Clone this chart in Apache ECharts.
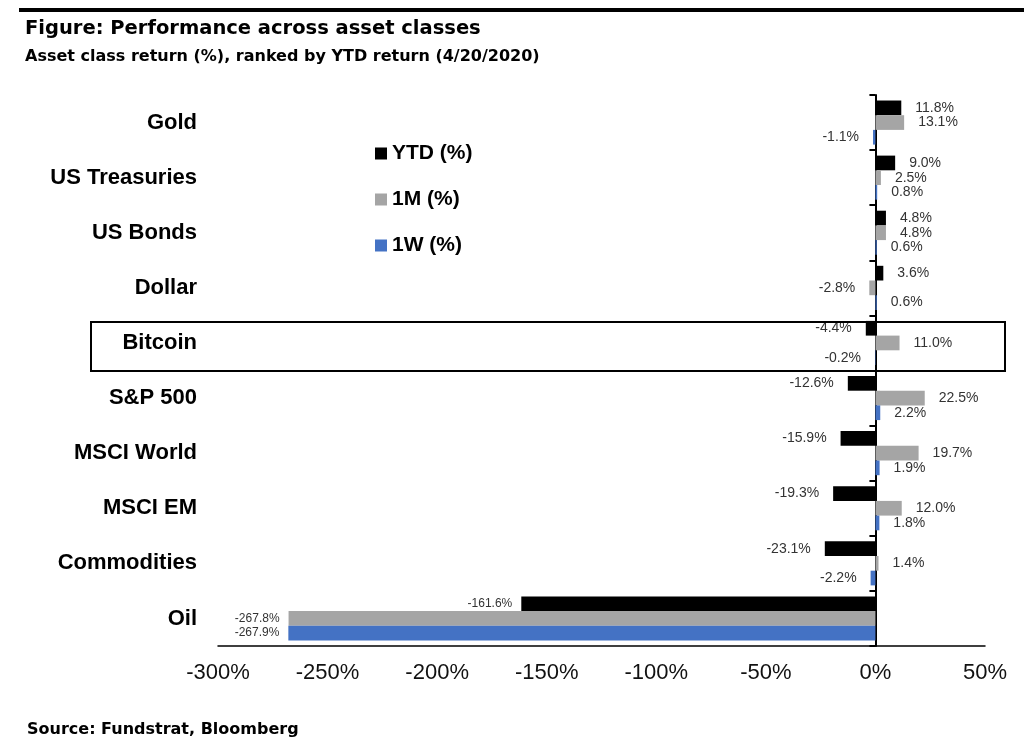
<!DOCTYPE html>
<html>
<head>
<meta charset="utf-8">
<script src="https://cdn.jsdelivr.net/npm/echarts@6/dist/echarts.min.js"></script>
<style>html,body{margin:0;padding:0;background:#fff;}#c{width:1024px;height:746px;}</style>
</head>
<body>
<div id="c"></div>
<script>
const categories = ['Gold','US Treasuries','US Bonds','Dollar','Bitcoin','S&P 500','MSCI World','MSCI EM','Commodities','Oil'];
const ytd = [11.8, 9.0, 4.8, 3.6, -4.4, -12.6, -15.9, -19.3, -23.1, -161.6];
const m1 = [13.1, 2.5, 4.8, -2.8, 11.0, 22.5, 19.7, 12.0, 1.4, -267.8];
const w1 = [-1.1, 0.8, 0.6, 0.6, -0.2, 2.2, 1.9, 1.8, -2.2, -267.9];
const seriesNames = ['YTD (%)', '1M (%)', '1W (%)'];
const xTicks = [-300, -250, -200, -150, -100, -50, 0, 50];

const colors = ['#000000', '#a5a5a5', '#4472c4'];

function toData(arr) {
  return arr.map(function (v) {
    const big = Math.abs(v) > 100;
    return {
      value: v,
      label: {
        position: v < 0 ? 'left' : 'right',
        distance: big ? 9 : 14,
        fontSize: big ? 12 : 14
      }
    };
  });
}

const chart = echarts.init(document.getElementById('c'));
const option = {
  animation: false,
  textStyle: { fontFamily: 'Liberation Sans, Arial, sans-serif' },
  color: colors,
  grid: { left: 218, right: 39, top: 95, bottom: 100, containLabel: false },
  legend: {
    orient: 'vertical',
    left: 370,
    top: 138,
    itemWidth: 12,
    itemHeight: 12,
    itemGap: 25,
    icon: 'rect',
    data: seriesNames,
    textStyle: { fontSize: 21, fontWeight: 'bold', color: '#000', fontFamily: 'Liberation Sans, Arial, sans-serif' }
  },
  xAxis: {
    type: 'value',
    min: xTicks[0],
    max: xTicks[xTicks.length - 1],
    interval: 50,
    axisLine: { show: true, lineStyle: { color: '#000', width: 1.5 } },
    axisTick: { show: false },
    splitLine: { show: false },
    axisLabel: { formatter: '{value}%', fontSize: 22, color: '#111', margin: 16 }
  },
  yAxis: [
    {
      type: 'category',
      data: categories,
      inverse: true,
      position: 'left',
      axisLine: { show: false, onZero: false },
      axisTick: { show: false },
      axisLabel: { fontSize: 22, fontWeight: 'bold', color: '#000', margin: 21 }
    },
    {
      type: 'category',
      data: categories,
      inverse: true,
      position: 'left',
      axisLine: { show: true, onZero: true, lineStyle: { color: '#000', width: 2 } },
      axisTick: { show: true, length: 6, lineStyle: { color: '#000', width: 2 } },
      axisLabel: { show: false }
    }
  ],
  series: [ytd, m1, w1].map(function (arr, i) {
    return {
      name: seriesNames[i],
      type: 'bar',
      yAxisIndex: 0,
      data: toData(arr),
      barGap: '0%',
      barCategoryGap: '20%',
      itemStyle: { color: colors[i] },
      label: {
        show: true,
        color: '#333',
        fontSize: 14,
        formatter: function (p) { return p.value.toFixed(1) + '%'; }
      }
    };
  }),
  graphic: [
    { type: 'line', shape: { x1: 19, y1: 10, x2: 1024, y2: 10 }, style: { stroke: '#000', lineWidth: 4 } },
    { type: 'text', left: 25, top: 19, style: { text: 'Figure: Performance across asset classes', font: 'bold 19.5px "DejaVu Sans", sans-serif', fill: '#000' } },
    { type: 'text', left: 25, top: 49, style: { text: 'Asset class return (%), ranked by YTD return (4/20/2020)', font: 'bold 16px "DejaVu Sans", sans-serif', fill: '#000' } },
    { type: 'text', left: 27, top: 722, style: { text: 'Source: Fundstrat, Bloomberg', font: 'bold 16px "DejaVu Sans", sans-serif', fill: '#000' } },
    { type: 'rect', shape: { x: 91, y: 322, width: 914, height: 49 }, style: { fill: 'none', stroke: '#000', lineWidth: 2 }, z: 10 }
  ]
};
chart.setOption(option);
</script>
</body>
</html>
